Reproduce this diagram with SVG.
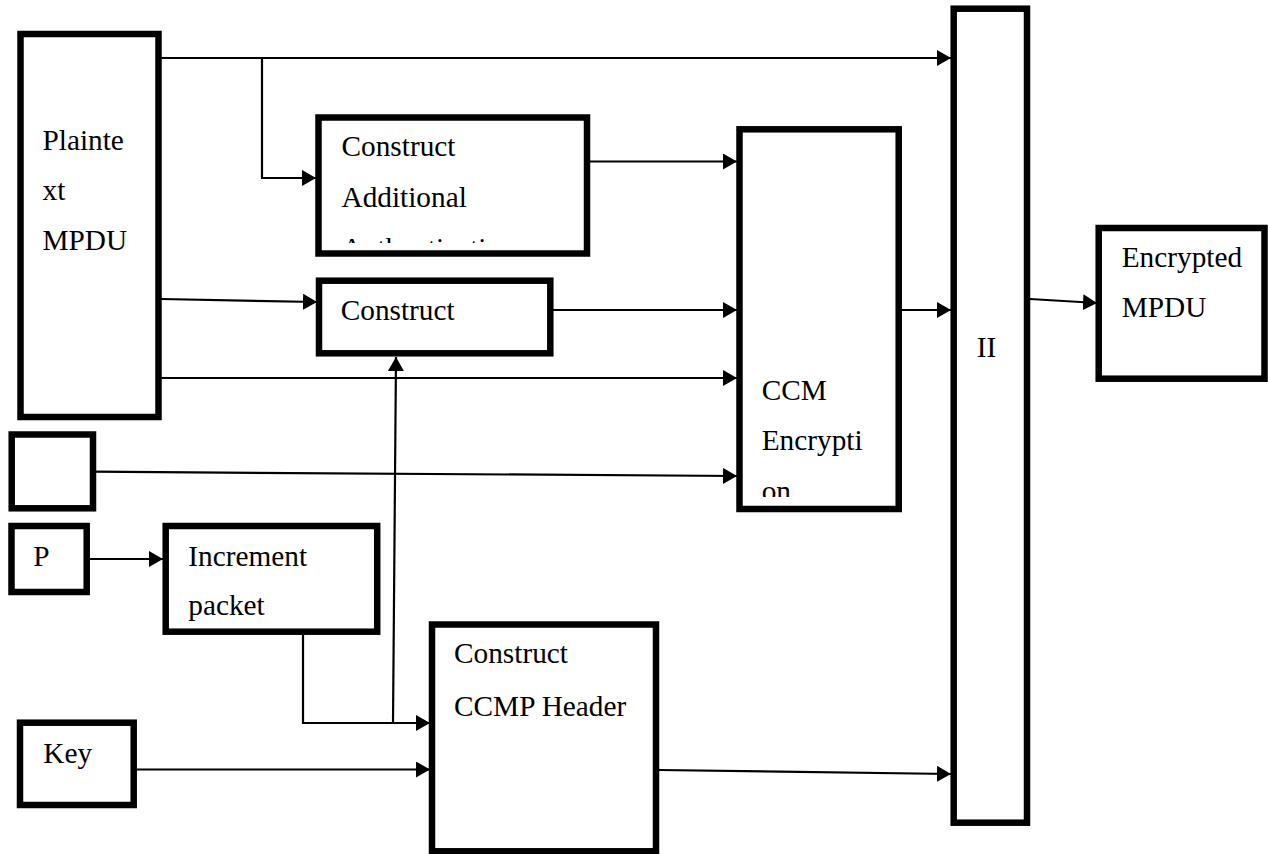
<svg xmlns="http://www.w3.org/2000/svg" width="1268" height="854" viewBox="0 0 1268 854">
  <style>
    .box { fill: #ffffff; stroke: #000000; stroke-width: 6.5; }
    .lbl { font-family: "Liberation Serif", "Times New Roman", serif; font-size: 29.3px; fill: #000000; }
    .wire { fill: none; stroke: #000000; stroke-width: 2.2; marker-end: url(#head); }
  </style>
  <defs>
    <marker id="head" markerUnits="userSpaceOnUse" markerWidth="16" markerHeight="18" refX="14" refY="8" orient="auto">
      <path d="M0,0 L14,8 L0,16 Z" fill="#000000"/>
    </marker>
    <clipPath id="clipAuth"><rect x="322" y="120" width="262" height="123"/></clipPath>
    <clipPath id="clipCcm"><rect x="743" y="133" width="153" height="364"/></clipPath>
  </defs>

  <!-- connectors -->
  <g id="connectors">
    <path class="wire" d="M161,58 H951"/>
    <path class="wire" d="M262,58 V178 H316"/>
    <path class="wire" d="M161,299 L317,302"/>
    <path class="wire" d="M161,378 H737"/>
    <path class="wire" d="M93,471.7 L737,476"/>
    <path class="wire" d="M589,161.5 H737"/>
    <path class="wire" d="M553,310 H737"/>
    <path class="wire" d="M901,310 H951"/>
    <path class="wire" d="M1030,299 L1097,303"/>
    <path class="wire" d="M90,559 H163"/>
    <path class="wire" d="M303,632 V723 H430"/>
    <path class="wire" d="M393,723 L396,357"/>
    <path class="wire" d="M137,769.5 H430"/>
    <path class="wire" d="M659,770 L951,774"/>
  </g>

  <!-- Plaintext MPDU -->
  <g id="plaintext">
    <rect class="box" x="20.5" y="34" width="138" height="383"/>
    <text class="lbl" x="42.5" y="150">Plainte</text>
    <text class="lbl" x="42.5" y="200">xt</text>
    <text class="lbl" x="42.5" y="250">MPDU</text>
  </g>

  <!-- Construct Additional Authentication data -->
  <g id="construct-aad">
    <rect class="box" x="318.5" y="117.5" width="268.5" height="136"/>
    <g clip-path="url(#clipAuth)">
      <text class="lbl" x="341.5" y="156">Construct</text>
      <text class="lbl" x="341.5" y="207">Additional</text>
      <text class="lbl" x="341.5" y="258">Authentication</text>
    </g>
  </g>

  <!-- Construct (nonce) -->
  <g id="construct-nonce">
    <rect class="box" x="319" y="280.7" width="231.3" height="72.6"/>
    <text class="lbl" x="340.7" y="320">Construct</text>
  </g>

  <!-- CCM Encryption -->
  <g id="ccm">
    <rect class="box" x="739.5" y="129.3" width="159.2" height="379.7"/>
    <g clip-path="url(#clipCcm)">
      <text class="lbl" x="761.7" y="400">CCM</text>
      <text class="lbl" x="761.7" y="450">Encrypti</text>
      <text class="lbl" x="761.7" y="501">on</text>
    </g>
  </g>

  <!-- II -->
  <g id="concat">
    <rect class="box" x="953.7" y="8.7" width="73.3" height="814"/>
    <text class="lbl" x="976.7" y="357">II</text>
  </g>

  <!-- Encrypted MPDU -->
  <g id="encrypted">
    <rect class="box" x="1098.7" y="228" width="165.8" height="150.7"/>
    <text class="lbl" x="1121.7" y="267">Encrypted</text>
    <text class="lbl" x="1121.7" y="317">MPDU</text>
  </g>

  <!-- blank input box -->
  <g id="blank">
    <rect class="box" x="11.7" y="434.5" width="81.3" height="73.8"/>
  </g>

  <!-- P -->
  <g id="pn">
    <rect class="box" x="11.5" y="526" width="75.2" height="66"/>
    <text class="lbl" x="33.3" y="565.7">P</text>
  </g>

  <!-- Increment packet -->
  <g id="increment">
    <rect class="box" x="165.7" y="526" width="211.5" height="105.7"/>
    <text class="lbl" x="188.3" y="565.7">Increment</text>
    <text class="lbl" x="188.3" y="615">packet</text>
  </g>

  <!-- Construct CCMP Header -->
  <g id="ccmp-header">
    <rect class="box" x="432" y="624.5" width="224" height="226.8"/>
    <text class="lbl" x="454" y="663.3">Construct</text>
    <text class="lbl" x="454" y="715.7">CCMP Header</text>
  </g>

  <!-- Key -->
  <g id="key">
    <rect class="box" x="20" y="722.7" width="113.7" height="82.3"/>
    <text class="lbl" x="43.3" y="762.7">Key</text>
  </g>
</svg>
